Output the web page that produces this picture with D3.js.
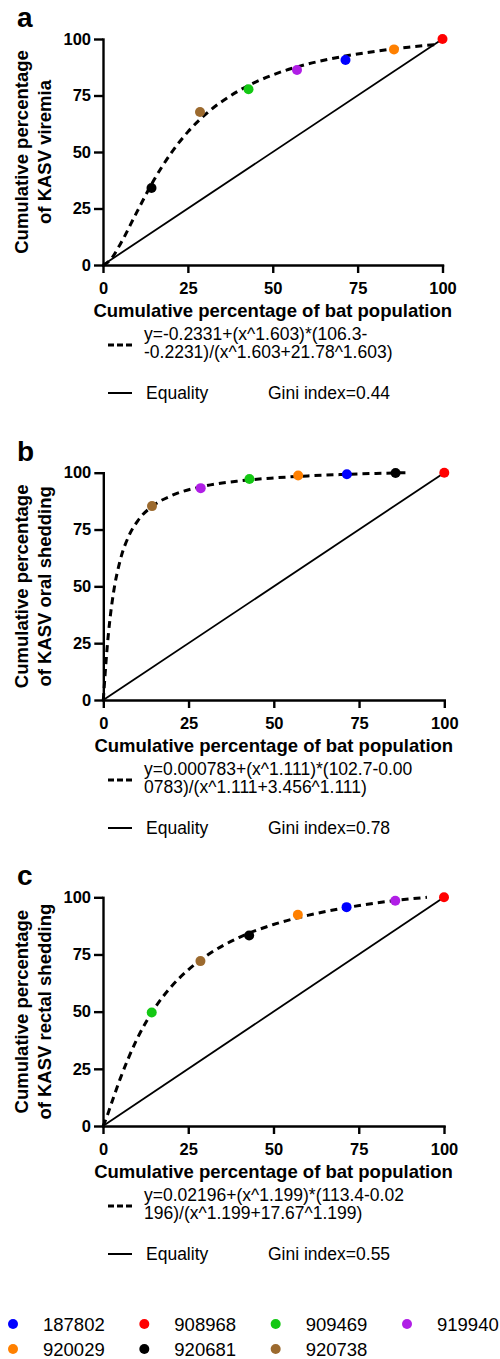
<!DOCTYPE html>
<html>
<head>
<meta charset="utf-8">
<title>Lorenz curves KASV</title>
<script src="https://d3js.org/d3.v7.min.js"></script>
<style>
  body { margin: 0; background: #fff; }
  svg text { font-family: "Liberation Sans", Arial, sans-serif; fill: #000; }
</style>
</head>
<body>
<div id="chart"></div>
<script>
// bats and their colours
var batIds = ["187802", "908968", "909469", "919940", "920029", "920681", "920738"];
var batColors = ["#0000ff", "#ff0000", "#14c814", "#b01ee6", "#ff8000", "#000000", "#9c6a2e"];

// x of every point: cumulative percentage of bat population
var xPct = [14.29, 28.57, 42.86, 57.14, 71.43, 85.71, 100];
var tickVals = [0, 25, 50, 75, 100];

// a: viremia
var orderA = ["920681", "920738", "909469", "919940", "187802", "920029", "908968"];
var viremia = [34.1, 67.7, 77.8, 86.3, 90.7, 95.4, 100];
// b: oral shedding
var orderB = ["920738", "919940", "909469", "920029", "187802", "920681", "908968"];
var oral = [85.3, 93.2, 97.2, 98.8, 99.3, 99.9, 100];
// c: rectal shedding
var orderC = ["909469", "920738", "920681", "920029", "187802", "919940", "908968"];
var rectal = [49.6, 72.1, 83.3, 92.4, 95.7, 98.5, 100];

// fitted curves
var fitXA = [0, 2, 5, 10, 15, 20, 25, 30, 40, 50, 60, 70, 80, 90, 98];
var fitYA = [0, 2.0, 9.0, 23.5, 37.6, 49.4, 58.9, 66.4, 77.1, 84.1, 88.8, 92.1, 94.5, 96.4, 97.5];
var fitXB = [0, 0.25, 0.5, 1, 2, 3, 5, 7.5, 10, 15, 20, 30, 40, 50, 60, 70, 80, 89.5];
var fitYB = [0, 5.3, 10.7, 20.7, 36.2, 47.3, 61.7, 72.2, 78.6, 85.9, 89.9, 94.2, 96.4, 97.7, 98.6, 99.2, 99.7, 100];
var fitXC = [0, 1, 2, 5, 10, 15, 20, 25, 30, 40, 50, 60, 70, 80, 90, 95];
var fitYC = [0, 3.5, 7.8, 20.5, 38.1, 51.2, 60.9, 68.3, 74.1, 82.5, 88.1, 92.1, 95.1, 97.5, 99.3, 100];

var equalityX = [0, 100];
var equalityY = [0, 100];

var letters = ["a", "b", "c"];
var yTitles = [
  ["Cumulative percentage", "of KASV viremia"],
  ["Cumulative percentage", "of KASV oral shedding"],
  ["Cumulative percentage", "of KASV rectal shedding"]
];
var xTitle = "Cumulative percentage of bat population";
var fitText = [
  ["y=-0.2331+(x^1.603)*(106.3-", "-0.2231)/(x^1.603+21.78^1.603)"],
  ["y=0.000783+(x^1.111)*(102.7-0.00", "0783)/(x^1.111+3.456^1.111)"],
  ["y=0.02196+(x^1.199)*(113.4-0.02", "196)/(x^1.199+17.67^1.199)"]
];
var giniText = ["Gini index=0.44", "Gini index=0.78", "Gini index=0.55"];

// layout of each panel
var panels = [
  { x0: 103, x1: 442.5, top: 39, bottom: 265, ids: orderA, ys: viremia, fx: fitXA, fy: fitYA },
  { x0: 103.3, x1: 444.3, top: 472.7, bottom: 700, ids: orderB, ys: oral, fx: fitXB, fy: fitYB },
  { x0: 103, x1: 444, top: 897.3, bottom: 1126, ids: orderC, ys: rectal, fx: fitXC, fy: fitYC }
];

var width = 500, height = 1359;
var svg = d3.select("#chart").append("svg")
  .attr("width", width)
  .attr("height", height);

var colorOf = d3.scaleOrdinal().domain(batIds).range(batColors);

panels.forEach(function(p, i) {
  var x = d3.scaleLinear().domain([0, 100]).range([p.x0, p.x1]);
  var y = d3.scaleLinear().domain([0, 100]).range([p.bottom, p.top]);
  var g = svg.append("g");

  //panel letter
  g.append("text")
    .attr("x", 17).attr("y", p.top - 12)
    .style("font-size", "28px").style("font-weight", "bold")
    .text(letters[i]);

  //equality line
  g.append("path")
    .datum(d3.zip(equalityX, equalityY))
    .attr("d", d3.line().x(function(d) { return x(d[0]); }).y(function(d) { return y(d[1]); }))
    .attr("fill", "none").attr("stroke", "#000").attr("stroke-width", 1.8);

  //fitted curve
  g.append("path")
    .datum(d3.zip(p.fx, p.fy))
    .attr("d", d3.line().curve(d3.curveMonotoneX)
      .x(function(d) { return x(d[0]); }).y(function(d) { return y(d[1]); }))
    .attr("fill", "none").attr("stroke", "#000")
    .attr("stroke-width", 3).attr("stroke-dasharray", "7,5");

  //axes
  var yAxis = g.append("g")
    .attr("transform", "translate(" + p.x0 + ",0)")
    .call(d3.axisLeft(y).tickValues(tickVals).tickSize(9).tickSizeOuter(0).tickPadding(3));
  var xAxis = g.append("g")
    .attr("transform", "translate(0," + p.bottom + ")")
    .call(d3.axisBottom(x).tickValues(tickVals).tickSize(8).tickSizeOuter(0).tickPadding(9));
  [yAxis, xAxis].forEach(function(a) {
    a.select(".domain").attr("stroke-width", 2.4).attr("stroke-linecap", "square");
    a.selectAll(".tick line").attr("stroke-width", 2.4);
    a.selectAll(".tick text")
      .style("font-size", "16.5px").style("font-weight", "bold")
      .style("font-family", "'Liberation Sans', Arial, sans-serif");
  });

  //points
  g.selectAll("circle")
    .data(d3.zip(xPct, p.ys, p.ids))
    .enter().append("circle")
    .attr("cx", function(d) { return x(d[0]); })
    .attr("cy", function(d) { return y(d[1]); })
    .attr("r", 5)
    .attr("fill", function(d) { return colorOf(d[2]); });

  //y title
  var midY = (p.top + p.bottom) / 2;
  yTitles[i].forEach(function(t, j) {
    g.append("text")
      .attr("transform", "translate(" + (28 + j * 23) + "," + midY + ") rotate(-90)")
      .attr("text-anchor", "middle")
      .style("font-size", "18.5px").style("font-weight", "bold")
      .text(t);
  });

  //x title
  g.append("text")
    .attr("x", (p.x0 + p.x1) / 2).attr("y", p.bottom + 52)
    .attr("text-anchor", "middle")
    .style("font-size", "18.5px").style("font-weight", "bold")
    .text(xTitle);

  //fit legend
  var ly = p.bottom + 75;
  g.append("line")
    .attr("x1", 108).attr("x2", 132).attr("y1", ly + 5).attr("y2", ly + 5)
    .attr("stroke", "#000").attr("stroke-width", 3).attr("stroke-dasharray", "6,3");
  fitText[i].forEach(function(t, j) {
    g.append("text")
      .attr("x", 144).attr("y", ly + j * 18)
      .style("font-size", "17.5px")
      .text(t);
  });
  g.append("line")
    .attr("x1", 108).attr("x2", 132).attr("y1", ly + 53).attr("y2", ly + 53)
    .attr("stroke", "#000").attr("stroke-width", 2);
  g.append("text")
    .attr("x", 146).attr("y", ly + 59)
    .style("font-size", "17.5px")
    .text("Equality");
  g.append("text")
    .attr("x", 268).attr("y", ly + 59)
    .style("font-size", "17.5px")
    .text(giniText[i]);
});

//bat legend
var legX = d3.scalePoint().domain([0, 1, 2, 3]).range([13, 407]);
var legend = svg.append("g");
batIds.forEach(function(id, k) {
  var cx = legX(k % 4);
  var cy = 1324 + Math.floor(k / 4) * 25;
  legend.append("circle")
    .attr("cx", cx).attr("cy", cy).attr("r", 5)
    .attr("fill", batColors[k]);
  legend.append("text")
    .attr("x", cx + 30).attr("y", cy + 6.5)
    .style("font-size", "18.5px")
    .text(id);
});
</script>
</body>
</html>
